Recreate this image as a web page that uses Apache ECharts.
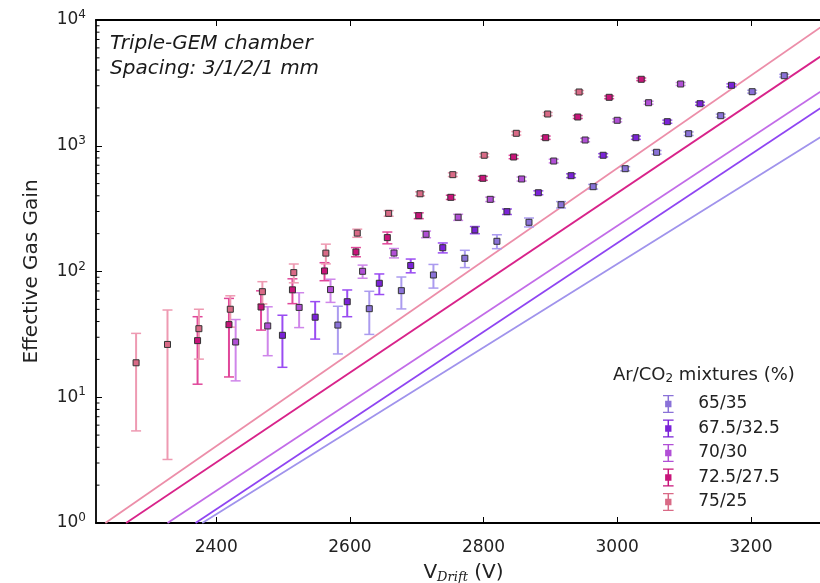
<!DOCTYPE html>
<html><head><meta charset="utf-8">
<script src="https://cdn.jsdelivr.net/npm/echarts@6/dist/echarts.min.js"></script>
<style>html,body{margin:0;padding:0;background:#fff}#c{width:820px;height:583px}</style>
</head><body><div id="c"></div>
<script>
// ---- data ----
const mixtures = ['65/35', '67.5/32.5', '70/30', '72.5/27.5', '75/25'];

const v65 = [2582, 2629, 2677, 2725, 2772, 2820, 2868, 2916, 2964, 3012, 3059, 3107, 3155, 3202, 3250];
const g65 = [37.5, 50.6, 70.4, 93.8, 127.4, 173.9, 246.2, 339.8, 472.5, 657, 887, 1247, 1734, 2691, 3607];
const e65 = [15.4, 19, 20, 20, 20, 22, 20, 20, 20, 25, 30, 40, 50, 70, 90];

const v675 = [2499, 2548, 2596, 2644, 2691, 2739, 2787, 2835, 2882, 2931, 2979, 3028, 3075, 3124, 3171];
const g675 = [31.1, 43.3, 57.5, 80.6, 111.6, 154.6, 213.8, 299, 423, 578, 840, 1159, 1554, 2160, 3025];
const e675 = [13.8, 14.3, 13.8, 15, 14, 14, 14, 15, 15, 20, 25, 35, 45, 60, 80];

const v70 = [2429, 2477, 2524, 2571, 2619, 2666, 2714, 2762, 2810, 2857, 2905, 2952, 3000, 3047, 3095];
const g70 = [27.5, 36.9, 51.8, 71.8, 100.4, 140.3, 197.6, 270, 375, 544, 756, 1111, 1594, 2199, 3098];
const e70 = [14, 15.5, 16, 15, 12, 12, 12, 15, 15, 20, 25, 35, 45, 60, 80];

const v725 = [2372, 2419, 2467, 2514, 2562, 2609, 2656, 2703, 2751, 2799, 2845, 2893, 2941, 2988, 3036];
const g725 = [28.2, 37.8, 52.2, 71.5, 101, 143, 186, 278, 389, 551, 814, 1159, 1693, 2428, 3377];
const e725 = [15.5, 23.3, 18, 16, 16.5, 12, 20, 15, 15, 20, 25, 35, 45, 60, 80];

const v75 = [2280, 2327, 2374, 2421, 2469, 2516, 2564, 2611, 2658, 2705, 2754, 2801, 2849, 2896, 2943];
const g75 = [18.8, 26.3, 35.1, 50.1, 69.1, 98.0, 140, 202, 290, 415, 589, 840, 1256, 1788, 2676];
const e75 = [13.4, 23.1, 15, 14, 13.9, 16.7, 25, 15, 15, 15, 20, 25, 40, 50, 70];

// fit lines: two end points each [V, gain]
const fit65 = [[2379, 1], [3304, 1167]];
const fit675 = [[2369, 1], [3304, 1986]];
const fit70 = [[2327, 1], [3304, 2691]];
const fit725 = [[2265, 1], [3304, 5117]];
const fit75 = [[2234, 1], [3304, 8730]];

const xTicks = [2400, 2600, 2800, 3000, 3200];
const yTicks = [1, 10, 100, 1000, 10000];
const yMinorTicks = [2,3,4,5,6,7,8,9, 20,30,40,50,60,70,80,90, 200,300,400,500,600,700,800,900, 2000,3000,4000,5000,6000,7000,8000,9000];

// ---- styles ----
const markerColors = ['#8a72d8', '#7b22d8', '#b14fd6', '#c8147a', '#d96a86'];
const lineColors = ['#a093ec', '#8f45f2', '#c26ce8', '#d8238a', '#ec8ea9'];
const errColors = ['#ab9bef', '#9a4cf2', '#cf86ea', '#e0479a', '#ee9ab2'];

const sets = [
  [v65, g65, e65, fit65],
  [v675, g675, e675, fit675],
  [v70, g70, e70, fit70],
  [v725, g725, e725, fit725],
  [v75, g75, e75, fit75]
];

const X_MIN = 2220, X_MAX = 3320;
const FONT = '"DejaVu Sans", sans-serif';
const series = [];

sets.forEach(function (s, i) {
  series.push({
    type: 'line', name: 'fit' + i, data: s[3], showSymbol: false, symbol: 'none',
    lineStyle: { color: lineColors[i], width: 1.8 }, z: 2, silent: true, clip: true
  });
});
sets.forEach(function (s, i) {
  const V = s[0], G = s[1], E = s[2];
  const col = errColors[i];
  series.push({
    type: 'custom', name: mixtures[i] + ' err', z: 3, clip: true, silent: true,
    data: V.map(function (v, k) { return [v, G[k] - E[k], G[k] + E[k]]; }),
    encode: { x: 0, y: [1, 2] },
    renderItem: function (params, api) {
      const lo = api.coord([api.value(0), api.value(1)]);
      const hi = api.coord([api.value(0), api.value(2)]);
      const w = 5;
      return { type: 'group', children: [
        { type: 'line', shape: { x1: lo[0], y1: lo[1], x2: hi[0], y2: hi[1] }, style: { stroke: col, lineWidth: 2 } },
        { type: 'line', shape: { x1: lo[0] - w, y1: lo[1], x2: lo[0] + w, y2: lo[1] }, style: { stroke: col, lineWidth: 1.5 } },
        { type: 'line', shape: { x1: hi[0] - w, y1: hi[1], x2: hi[0] + w, y2: hi[1] }, style: { stroke: col, lineWidth: 1.5 } }
      ] };
    }
  });
});
sets.forEach(function (s, i) {
  const V = s[0], G = s[1];
  series.push({
    type: 'scatter', name: mixtures[i], z: 4,
    data: V.map(function (v, k) { return [v, G[k]]; }),
    symbol: 'rect', symbolSize: 6,
    itemStyle: { color: markerColors[i], borderColor: '#333', borderWidth: 1, opacity: 1 }
  });
});
// minor ticks of the log axis (inside, on the left axis)
series.push({
  type: 'custom', name: 'minorTicks', z: 5, silent: true, clip: false,
  data: yMinorTicks.map(function (v) { return [X_MIN, v]; }),
  renderItem: function (params, api) {
    const p = api.coord([api.value(0), api.value(1)]);
    return { type: 'line', shape: { x1: p[0], y1: p[1], x2: p[0] + 3.5, y2: p[1] }, style: { stroke: '#000', lineWidth: 1 } };
  }
});

const legendIcon = 'path://M0,0 H10 V1.2 H0 Z M4.3,1.2 H5.7 V5.5 H4.3 Z M2,5.5 H8 V11.5 H2 Z M4.3,11.5 H5.7 V15.8 H4.3 Z M0,15.8 H10 V17 H0 Z';

const option = {
  animation: false,
  backgroundColor: '#fff',
  grid: { left: 96, right: -11, top: 20, bottom: 60, containLabel: false, outerBoundsMode: 'none' },
  legend: {
    data: mixtures, orient: 'vertical', left: 663, top: 395, padding: 0,
    itemWidth: 50, itemHeight: 18, itemGap: 6.5, icon: legendIcon, selectedMode: false,
    itemStyle: { borderWidth: 0 },
    textStyle: { fontFamily: FONT, fontSize: 17, color: '#222' }
  },
  graphic: [
    { type: 'text', left: 110, top: 31, style: {
      text: 'Triple-GEM chamber\nSpacing: 3/1/2/1 mm', font: 'italic 20px "DejaVu Sans"', lineHeight: 25, fill: '#1a1a1a' } },
    { type: 'text', left: 613, top: 366, style: {
      text: 'Ar/CO{sub|2} mixtures (%)', font: '18px "DejaVu Sans"', fill: '#222',
      rich: { sub: { fontSize: 12, fontFamily: 'DejaVu Sans', padding: [8, 0, 0, 0], fill: '#222' } } } }
  ],
  xAxis: [
    {
      type: 'value', position: 'bottom', min: X_MIN, max: X_MAX,
      name: 'V{sub|Drift} (V)', nameLocation: 'middle', nameGap: 38,
      nameTextStyle: { fontFamily: FONT, fontSize: 20, color: '#222',
        rich: { sub: { fontFamily: 'DejaVu Serif', fontStyle: 'italic', fontSize: 13, padding: [10, 0, 0, 0], color: '#222' } } },
      axisLine: { onZero: false, lineStyle: { color: '#000', width: 1.8 } },
      axisTick: { inside: true, length: 6, customValues: xTicks, lineStyle: { color: '#000', width: 1 } },
      axisLabel: { customValues: xTicks, fontFamily: FONT, fontSize: 17, color: '#222', margin: 16,
        formatter: function (v) { return String(v); } },
      splitLine: { show: false }
    },
    {
      type: 'value', position: 'top', min: X_MIN, max: X_MAX,
      axisLine: { onZero: false, lineStyle: { color: '#000', width: 1.8 } },
      axisTick: { inside: true, length: 6, customValues: xTicks, lineStyle: { color: '#000', width: 1 } },
      axisLabel: { show: false }, splitLine: { show: false }
    }
  ],
  yAxis: [
    {
      type: 'log', logBase: 10, min: 1, max: 10000, position: 'left',
      name: 'Effective Gas Gain', nameLocation: 'middle', nameGap: 54,
      nameTextStyle: { fontFamily: FONT, fontSize: 20, color: '#222' },
      axisLine: { onZero: false, lineStyle: { color: '#000', width: 1.8 } },
      axisTick: { inside: true, length: 6, customValues: yTicks, lineStyle: { color: '#000', width: 1 } },
      axisLabel: {
        customValues: yTicks, margin: 10, color: '#222', fontFamily: FONT, fontSize: 17,
        formatter: function (v) { return '10{sup|' + Math.round(Math.log10(v)) + '}'; },
        rich: { sup: { fontSize: 12, fontFamily: FONT, color: '#222', padding: [0, 0, 10, 0] } }
      },
      splitLine: { show: false }
    }
  ],
  series: series
};

const chart = echarts.init(document.getElementById('c'), null, { renderer: 'canvas' });
chart.setOption(option);
</script>
</body></html>
